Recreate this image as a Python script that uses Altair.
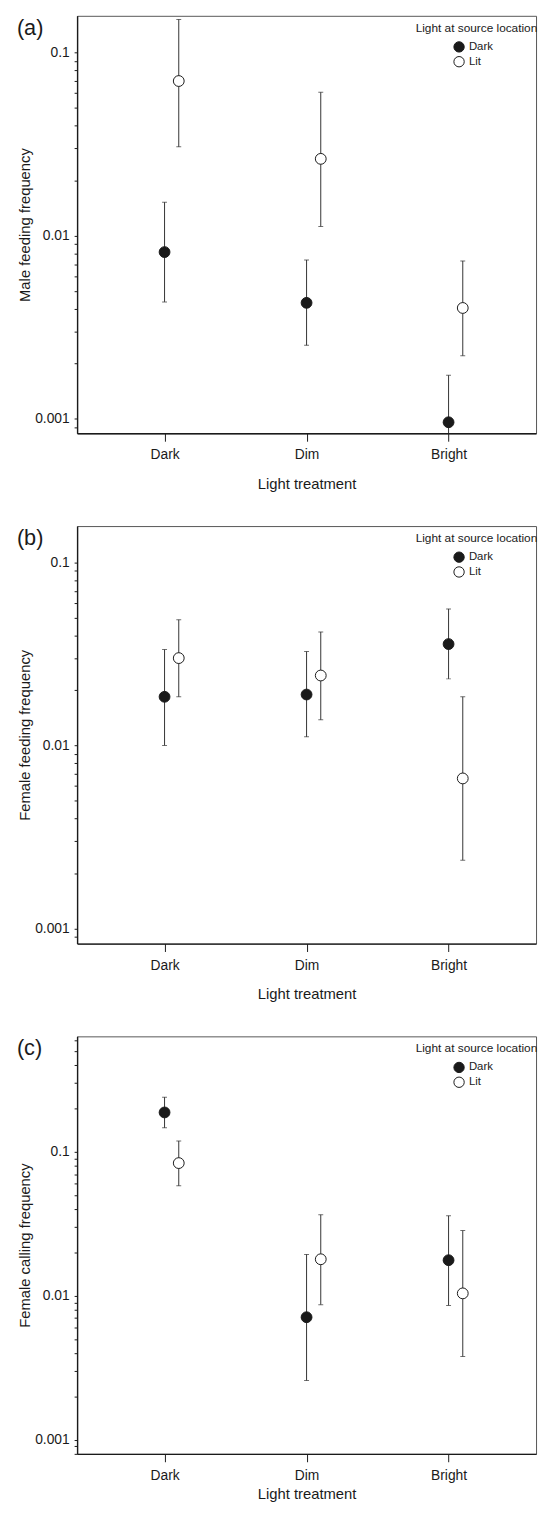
import altair as alt
import pandas as pd

# ---------------- data ----------------
treatments = ["Dark", "Dim", "Bright"]
sources = ["Dark", "Lit"]
row_treatment = ["Dark", "Dark", "Dim", "Dim", "Bright", "Bright"]
row_source = ["Dark", "Lit", "Dark", "Lit", "Dark", "Lit"]

# (a) Male feeding frequency
a_mean = [0.00814, 0.0700, 0.00430, 0.0263, 0.000957, 0.00403]
a_low = [0.00435, 0.0306, 0.00252, 0.01124, 0.00050, 0.00221]
a_high = [0.01525, 0.152, 0.00737, 0.0608, 0.00173, 0.00728]

# (b) Female feeding frequency
b_mean = [0.01844, 0.0300, 0.01897, 0.0241, 0.0358, 0.00660]
b_low = [0.0100, 0.01844, 0.01114, 0.0138, 0.0231, 0.00236]
b_high = [0.0334, 0.0486, 0.0326, 0.0417, 0.0557, 0.01844]

# (c) Female calling frequency
c_mean = [0.188, 0.0836, 0.00710, 0.01795, 0.01768, 0.0104]
c_low = [0.147, 0.0581, 0.00258, 0.00868, 0.00858, 0.00379]
c_high = [0.240, 0.119, 0.0194, 0.0366, 0.0360, 0.0284]

decade_labels = [0.001, 0.01, 0.1]
y_ticks = [m * 10.0 ** e for e in range(-4, 1) for m in range(1, 10)]

FONT = "Liberation Sans"
INK = "#1a1a1a"


def make_df(mean, low, high):
    return pd.DataFrame({
        "treatment": row_treatment,
        "source": row_source,
        "mean": mean,
        "low": low,
        "high": high,
    })


def panel(df, letter, ytitle, ydomain, xtitle_pad):
    base = alt.Chart(df).transform_calculate(
        xpos="indexof(['Dark','Dim','Bright'], datum.treatment) + (datum.source === 'Lit' ? 0.1 : 0)"
    )
    xenc = alt.X(
        "xpos:Q",
        scale=alt.Scale(domain=[-0.616, 2.616], nice=False, zero=False),
        axis=alt.Axis(
            values=[0, 1, 2],
            labelExpr="['Dark','Dim','Bright'][datum.value]",
            title="Light treatment",
            grid=False,
            tickSize=8,
            labelPadding=7,
            titlePadding=xtitle_pad,
        ),
    )
    yscale = alt.Scale(type="log", domain=ydomain, nice=False)
    yaxis = alt.Axis(
        values=y_ticks,
        labelExpr="indexof(%s, datum.value) >= 0 ? format(datum.value, '~g') : ''" % str(decade_labels),
        title=ytitle,
        grid=False,
        tickSize=3,
        labelPadding=5,
        titlePadding=2,
    )
    rules = base.mark_rule(color="#333333", strokeWidth=1, clip=True).encode(
        x=xenc,
        y=alt.Y("low:Q", scale=yscale, axis=yaxis),
        y2="high:Q",
    )
    cap_lo = base.mark_tick(orient="horizontal", size=5, thickness=1, color="#333333", clip=True).encode(
        x=xenc, y=alt.Y("low:Q", scale=yscale, axis=yaxis)
    )
    cap_hi = base.mark_tick(orient="horizontal", size=5, thickness=1, color="#333333", clip=True).encode(
        x=xenc, y=alt.Y("high:Q", scale=yscale, axis=yaxis)
    )
    pts = base.mark_circle(size=120, stroke=INK, strokeWidth=1, opacity=1).encode(
        x=xenc,
        y=alt.Y("mean:Q", scale=yscale, axis=yaxis),
        fill=alt.Fill(
            "source:N",
            scale=alt.Scale(domain=sources, range=[INK, "white"]),
            legend=alt.Legend(
                title="Light at source location",
                orient="none",
                legendX=343,
                legendY=7,
                titleFontSize=12,
                titleFontWeight="normal",
                titleColor=INK,
                titlePadding=6,
                labelFontSize=11.5,
                labelColor=INK,
                symbolType="circle",
                symbolSize=110,
                symbolStrokeColor=INK,
                symbolStrokeWidth=1,
                symbolOffset=38,
                labelOffset=4,
                clipHeight=13,
                rowPadding=2,
            ),
        ),
    )
    tag = alt.Chart(pd.DataFrame({"tag": [letter]})).mark_text(
        fontSize=22, align="left", baseline="middle", color=INK
    ).encode(text="tag:N", x=alt.value(-61), y=alt.value(12))
    return alt.layer(rules, cap_lo, cap_hi, pts, tag).properties(width=465, height=423)


pa = panel(make_df(a_mean, a_low, a_high), "(a)", "Male feeding frequency", [0.000833, 0.159], 15)
pb = panel(make_df(b_mean, b_low, b_high), "(b)", "Female feeding frequency", [0.000826, 0.158], 15)
pc = panel(make_df(c_mean, c_low, c_high), "(c)", "Female calling frequency", [0.000798, 0.635], 4)

chart = (
    alt.vconcat(pa, pb, pc, spacing=33)
    .resolve_scale(x="independent", y="independent", fill="independent")
    .properties(padding={"left": 8, "top": -3, "right": 0, "bottom": 0})
    .configure(font=FONT)
    .configure_view(stroke="#555555", strokeWidth=1)
    .configure_axis(
        labelFontSize=14,
        titleFontSize=15,
        titleFontWeight="normal",
        labelColor=INK,
        titleColor=INK,
        domainColor=INK,
        domainWidth=1.4,
        tickColor=INK,
        tickWidth=1,
    )
)

chart.save("out.html", embed_options={"renderer": "svg", "actions": False})
